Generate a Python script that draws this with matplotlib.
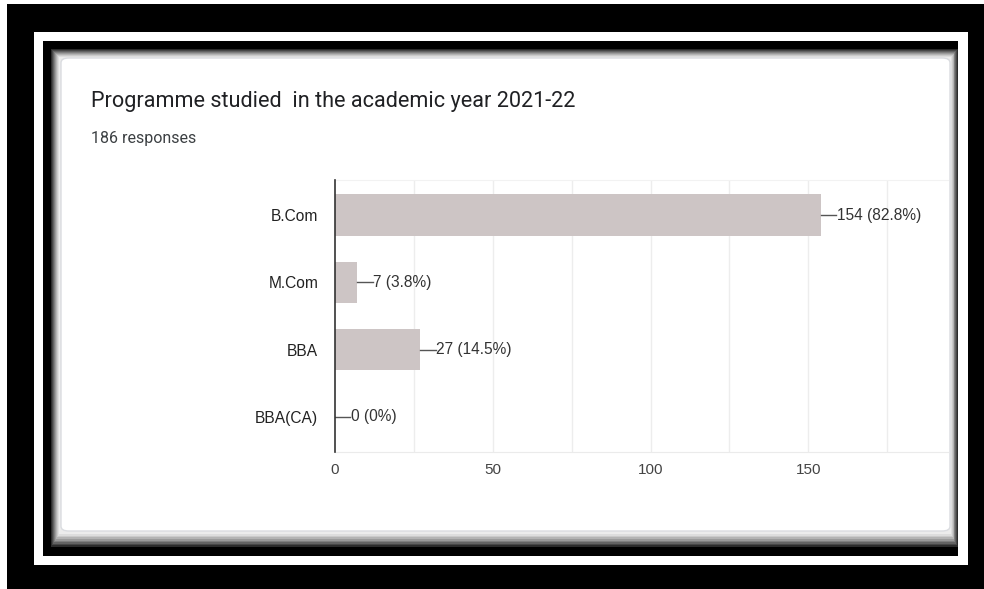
import matplotlib.pyplot as plt
from matplotlib.patches import Rectangle, FancyBboxPatch

# data
programmes = ['B.Com', 'M.Com', 'BBA', 'BBA(CA)']
counts = [154, 7, 27, 0]
shares = ['82.8%', '3.8%', '14.5%', '0%']
x_ticks = [0, 50, 100, 150]

W, H = 984, 589
fig = plt.figure(figsize=(W / 100, H / 100), dpi=100)
fig.patch.set_facecolor('white')


def px_rect(x0, y0, x1, y1, **kw):
    # rectangle given in image pixels (y from top)
    r = Rectangle((x0 / W, 1 - y1 / H), (x1 - x0) / W, (y1 - y0) / H,
                  transform=fig.transFigure, **kw)
    fig.add_artist(r)
    return r


# --- photo frame: black / white / black, then the card shadow ---
px_rect(7, 4, W, H, facecolor='black', edgecolor='none')
px_rect(34, 32, 968, 565, facecolor='white', edgecolor='none')
px_rect(43, 41, 958, 556, facecolor='black', edgecolor='none')

shades = ['#2b2b2b', '#474747', '#636363', '#7f7f7f', '#9a9a9a',
          '#b3b3b3', '#cacaca', '#dddddd', '#ececec']
for i, c in enumerate(shades):
    px_rect(51 + i, 49 + i, 958 - i * 0.9, 547 - i * 1.6, facecolor=c, edgecolor='none')

card = FancyBboxPatch((61 / W, 1 - 531 / H), (950 - 61) / W, (531 - 58) / H,
                      boxstyle='round,pad=0,rounding_size=0.008',
                      transform=fig.transFigure, facecolor='white',
                      edgecolor='#dadce0', linewidth=1)
fig.add_artist(card)

# --- header texts ---
fig.text(91 / W, 1 - 101 / H, 'Programme studied  in the academic year 2021-22',
         fontfamily='Roboto', fontsize=15.6, color='#202124', va='center', ha='left')
fig.text(91 / W, 1 - 138 / H, '186 responses', fontfamily='Roboto',
         fontsize=11.5, color='#3c4043', va='center', ha='left')

# --- bar chart ---
ax_l, ax_r, ax_t, ax_b = 335, 948, 180, 452
ax = fig.add_axes([ax_l / W, 1 - ax_b / H, (ax_r - ax_l) / W, (ax_b - ax_t) / H])
ax.set_zorder(10)
ax.set_facecolor('none')

ypos = range(len(programmes))
ax.barh(ypos, counts, height=0.61, color='#cdc5c5', zorder=2)

ax.set_xlim(0, (ax_r - ax_l) / 3.155)
ax.set_ylim(3.52, -0.52)

for x in range(25, 200, 25):
    ax.axvline(x, color='#ededed', lw=1, zorder=0)

# value labels with the short leader line
for y, c, s in zip(ypos, counts, shares):
    ax.plot([c, c + 4.9], [y, y], color='#555555', lw=1, zorder=3)
    ax.text(c + 5.0, y, f'{c} ({s})', va='center', ha='left', fontsize=11.2,
            color='#333333', fontfamily='Liberation Sans', zorder=3)

ax.set_yticks(list(ypos))
ax.set_yticklabels(programmes, fontfamily='Liberation Sans', fontsize=11.2, color='#222222')
ax.set_xticks(x_ticks)
ax.set_xticklabels([str(t) for t in x_ticks], fontfamily='Liberation Sans',
                   fontsize=11, color='#444444')
ax.tick_params(axis='y', length=0, pad=12)
ax.tick_params(axis='x', length=0, pad=8)

ax.spines['left'].set_color('#333333')
ax.spines['left'].set_linewidth(1.2)
ax.spines['left'].set_zorder(3)
ax.spines['right'].set_visible(False)
ax.spines['top'].set_color('#f2f2f2')
ax.spines['bottom'].set_color('#ebebeb')

fig.savefig('out.png', dpi=100)
